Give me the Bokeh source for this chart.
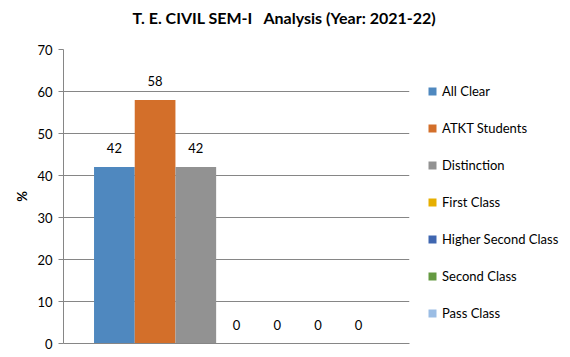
from bokeh.plotting import figure
from bokeh.models import ColumnDataSource, Range1d, FixedTicker, Legend, LegendItem, Title
from bokeh.embed import file_html
from bokeh.resources import INLINE
from bokeh.core.properties import value

series = ["All Clear", "ATKT Students", "Distinction", "First Class",
          "Higher Second Class", "Second Class", "Pass Class"]
values = [42, 58, 42, 0, 0, 0, 0]
colors = ["#4F88BF", "#D36F2A", "#929292", "#E6AF00", "#3F66B0", "#659A42", "#9BBDE4"]
y_ticks = [0, 10, 20, 30, 40, 50, 60, 70]
title_text = "T. E. CIVIL SEM-I\u00a0\u00a0 Analysis (Year: 2021-22)"

FONT = "Lato"

xs = list(range(len(series)))
src = ColumnDataSource(dict(x=xs, v=values, c=colors, name=series,
                            lbl=[str(v) for v in values]))

p = figure(frame_width=346, frame_height=294, output_backend="svg", toolbar_location=None,
           x_range=Range1d(-1.25, len(series) + 0.25), y_range=Range1d(0, 70),
           min_border_left=63, min_border_right=161, min_border_top=49, min_border_bottom=13)

p.title = Title(text=title_text, align="left", offset=69,
                text_font=FONT, text_font_size="16px", text_font_style="bold",
                text_color="#000000")
# spacer between frame and title to lift the title
p.add_layout(Title(text=" ", text_font_size="6px"), "above")

r = p.vbar(x="x", top="v", width=1.0, color="c", source=src, line_color=None)
p.text(x="x", y="v", text="lbl", source=src, text_align="center", text_baseline="middle",
       y_offset=-19, text_font=value(FONT), text_font_size="13px", text_color="#000000")

p.outline_line_color = None
p.background_fill_color = "white"

p.xgrid.visible = False
p.ygrid.grid_line_color = "#868686"
p.ygrid.ticker = FixedTicker(ticks=y_ticks)

p.xaxis.ticker = FixedTicker(ticks=[])
p.xaxis.axis_line_color = "#868686"
p.xaxis.major_tick_line_color = None
p.xaxis.minor_tick_line_color = None

p.yaxis.ticker = FixedTicker(ticks=y_ticks)
p.yaxis.axis_line_color = "#868686"
p.yaxis.major_tick_line_color = "#868686"
p.yaxis.major_tick_in = 0
p.yaxis.major_tick_out = 5
p.yaxis.minor_tick_line_color = None
p.yaxis.major_label_standoff = 6
p.yaxis.major_label_text_font = FONT
p.yaxis.major_label_text_font_size = "13px"
p.yaxis.major_label_text_color = "#000000"
p.yaxis.axis_label = "%"
p.yaxis.axis_label_text_font = FONT
p.yaxis.axis_label_text_font_size = "13px"
p.yaxis.axis_label_text_font_style = "bold"
p.yaxis.axis_label_text_color = "#000000"
p.yaxis.axis_label_standoff = 4

items = [LegendItem(label=series[i], renderers=[r], index=i) for i in range(len(series))]
legend = Legend(items=items, location="top_left", orientation="vertical",
                glyph_width=10, glyph_height=10, label_standoff=5, spacing=17,
                label_height=20, padding=0, margin=18,
                title=" ", title_text_font_size="8px", title_standoff=5,
                border_line_color=None, background_fill_alpha=0,
                label_text_font=FONT, label_text_font_size="13px", label_text_color="#000000")
p.add_layout(legend, "right")

open("out.html", "w").write(file_html(p, INLINE))
